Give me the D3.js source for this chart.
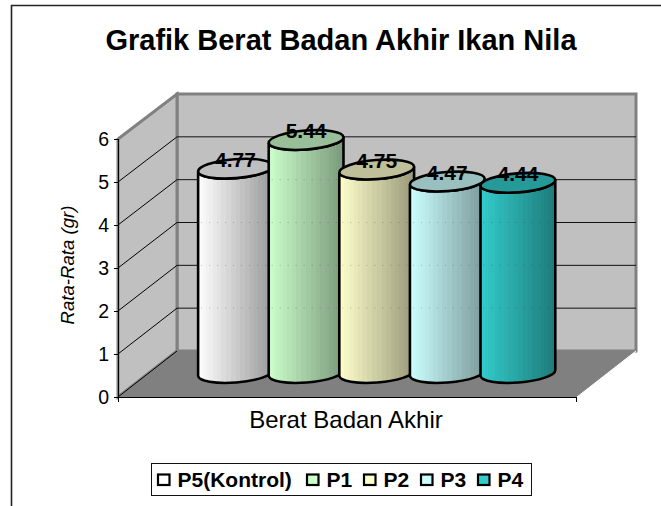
<!DOCTYPE html>
<html><head><meta charset="utf-8">
<script src="https://cdn.jsdelivr.net/npm/d3@7"></script>
<style>html,body{margin:0;padding:0;background:#fff}svg{display:block}text{font-family:"Liberation Sans",Arial,sans-serif;fill:#000}</style>
</head><body><svg id="c" width="661" height="506"></svg>
<script>
const titleText = "Grafik Berat Badan Akhir Ikan Nila";
const seriesNames = ["P5(Kontrol)", "P1", "P2", "P3", "P4"];
const seriesValues = [4.77, 5.44, 4.75, 4.47, 4.44];
const seriesColors = ["#ffffff", "#ccffcc", "#ffffcc", "#ccffff", "#33cccc"];
const yTicks = [0, 1, 2, 3, 4, 5, 6];
const categoryName = "Berat Badan Akhir";
const yTitle = "Rata-Rata (gr)";

const svg = d3.select("#c");
const defs = svg.append("defs");

// chart frame: top and left edges only are inside the picture
svg.append("path").attr("d", "M11.5,506V5.5H661").attr("fill", "none").attr("stroke", "#222").attr("stroke-width", 1.6);
svg.append("text").attr("x", 341).attr("y", 50).attr("text-anchor", "middle")
  .attr("font-size", 29).attr("font-weight", "bold").text(titleText);

// 3D box geometry: front plane, back plane and bar-plane scales
const yFront = d3.scaleLinear().domain([0, 6]).range([397, 139]);
const yBack = d3.scaleLinear().domain([0, 6]).range([351, 94]);
const yBar = d3.scaleLinear().domain([0, 6]).range([373, 116]);
const xF0 = 118, xF1 = 577, xB0 = 177, xB1 = 636;

svg.append("polygon").attr("points", [[xB0, yBack(0)], [xB1, yBack(0)], [xB1, yBack(6)], [xB0, yBack(6)]].join(" "))
  .attr("fill", "#c0c0c0").attr("stroke", "#808080").attr("stroke-width", 3);
svg.append("polygon").attr("points", [[xF0, yFront(0)], [xB0, yBack(0)], [xB0, yBack(6)], [xF0, yFront(6)]].join(" "))
  .attr("fill", "#c0c0c0").attr("stroke", "#808080").attr("stroke-width", 3);
svg.append("polygon").attr("points", [[xF0, yFront(0)], [xF1, yFront(0)], [xB1, yBack(0)], [xB0, yBack(0)]].join(" "))
  .attr("fill", "#808080");
// gridlines
yTicks.slice(1, 6).forEach(t => {
  svg.append("line").attr("x1", xB0).attr("x2", xB1).attr("y1", yBack(t)).attr("y2", yBack(t)).attr("stroke", "#111").attr("stroke-width", 1);
});
yTicks.slice(0, 6).forEach(t => {
  svg.append("line").attr("x1", xF0).attr("y1", yFront(t)).attr("x2", xB0).attr("y2", yBack(t)).attr("stroke", "#000").attr("stroke-width", 1);
});
svg.append("line").attr("x1", xF1).attr("y1", yFront(0)).attr("x2", xB1).attr("y2", yBack(0)).attr("stroke", "#fff").attr("stroke-width", 1);
// axes
svg.append("line").attr("x1", xF0 + .5).attr("x2", xF0 + .5).attr("y1", yFront(6)).attr("y2", yFront(0)).attr("stroke", "#000");
svg.append("line").attr("x1", xF0).attr("x2", xF1).attr("y1", yFront(0) + .5).attr("y2", yFront(0) + .5).attr("stroke", "#000");
svg.append("line").attr("x1", xF0 + .5).attr("x2", xF0 + .5).attr("y1", yFront(0)).attr("y2", yFront(0) + 5).attr("stroke", "#000");
svg.append("line").attr("x1", xF1 - .5).attr("x2", xF1 - .5).attr("y1", yFront(0)).attr("y2", yFront(0) + 5).attr("stroke", "#000");
yTicks.forEach(t => {
  svg.append("line").attr("x1", xF0 - 4).attr("x2", xF0).attr("y1", yFront(t) + .5).attr("y2", yFront(t) + .5).attr("stroke", "#000");
  svg.append("text").attr("x", 109).attr("y", yFront(t) + 7).attr("text-anchor", "end").attr("font-size", 19.5).text(t);
});
svg.append("text").attr("transform", "translate(74,265) rotate(-90)").attr("text-anchor", "middle")
  .attr("font-size", 18.6).attr("font-style", "italic").text(yTitle);
svg.append("text").attr("x", 346).attr("y", 428).attr("text-anchor", "middle").attr("font-size", 24).text(categoryName);

// cylinders
const xBand = d3.scaleBand().domain(seriesNames).range([198, 551]).paddingInner(0);
const rx = 37.5, ry = 9.5, tiltDeg = -4.5;
const tx = rx * Math.cos(tiltDeg * Math.PI / 180), ty = rx * Math.sin(tiltDeg * Math.PI / 180);
seriesNames.forEach((name, i) => {
  const col = d3.rgb(seriesColors[i]);
  const g = defs.append("linearGradient").attr("id", "g" + i).attr("x1", 0).attr("x2", 1).attr("y1", 0).attr("y2", 0);
  const n = 24;
  const shade = d3.scaleLinear().domain([0, 1]).range([1, 0.6]);
  const edge = k => (1 - Math.cos(Math.PI * k / n)) / 2;
  for (let k = 0; k < n; k++) {
    const s = shade(edge(k + .5));
    const c = d3.rgb(col.r * s, col.g * s, col.b * s);
    g.append("stop").attr("offset", edge(k)).attr("stop-color", c);
    g.append("stop").attr("offset", edge(k + 1)).attr("stop-color", c);
  }
  const cx = xBand(name) + rx, yTop = yBar(seriesValues[i]), yBot = yBar(0);
  const body = `M${cx - tx},${yTop - ty}L${cx - tx},${yBot - ty}A${rx},${ry} ${tiltDeg} 0 0 ${cx + tx},${yBot + ty}L${cx + tx},${yTop + ty}A${rx},${ry} ${tiltDeg} 0 1 ${cx - tx},${yTop - ty}Z`;
  const grp = svg.append("g");
  grp.append("path").attr("d", body).attr("fill", `url(#g${i})`).attr("stroke", "#000").attr("stroke-width", 2.6);
  // faint back gridlines showing through the body
  yTicks.slice(1, 6).filter(t => yBack(t) > yTop + 12).forEach(t => {
    grp.append("line").attr("x1", cx - tx + 3).attr("x2", cx + tx - 3).attr("y1", yBack(t)).attr("y2", yBack(t))
      .attr("stroke", "#000").attr("stroke-opacity", .22).attr("stroke-dasharray", "1 7");
  });
  grp.append("ellipse").attr("cx", cx).attr("cy", yTop).attr("rx", rx).attr("ry", ry)
    .attr("transform", `rotate(${tiltDeg} ${cx} ${yTop})`)
    .attr("fill", d3.rgb(col.r * .75, col.g * .75, col.b * .75)).attr("stroke", "#000").attr("stroke-width", 2.6);
});
// value labels sit above all cylinders
seriesNames.forEach((name, i) => {
  svg.append("text").attr("x", xBand(name) + rx).attr("y", yBar(seriesValues[i]) - 1.5).attr("text-anchor", "middle")
    .attr("font-size", 21).attr("font-weight", "bold").text(seriesValues[i].toFixed(2));
});

// legend
svg.append("rect").attr("x", 151.5).attr("y", 463.5).attr("width", 380).attr("height", 32).attr("fill", "#fff").attr("stroke", "#111");
const legendX = [158, 307, 364, 421, 478];
seriesNames.forEach((name, i) => {
  svg.append("rect").attr("x", legendX[i]).attr("y", 474.5).attr("width", 11.5).attr("height", 10.5).attr("fill", seriesColors[i]).attr("stroke", "#000").attr("stroke-width", 2.2);
  svg.append("text").attr("x", legendX[i] + 19.5).attr("y", 487).attr("font-size", 21).attr("font-weight", "bold").text(name);
});
</script></body></html>
